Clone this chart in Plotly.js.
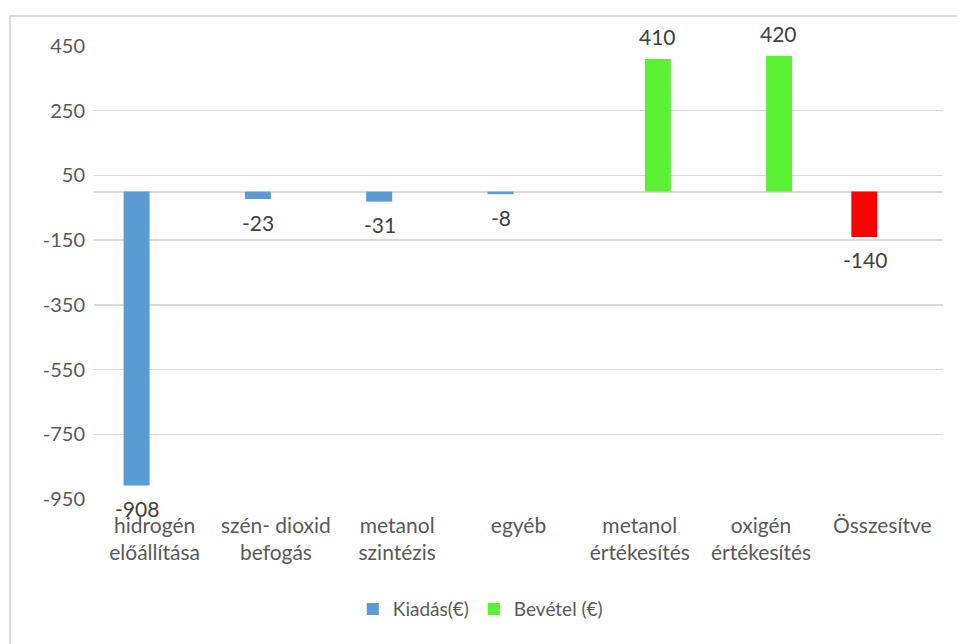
<!DOCTYPE html>
<html>
<head>
<meta charset="utf-8">
<script src="https://cdn.plot.ly/plotly-3.0.1.min.js"></script>
<style>
html,body{margin:0;padding:0;background:#fff;overflow:hidden;}
#chart{width:957px;height:644px;}
#frame{position:absolute;left:9px;top:15px;width:1000px;height:700px;border:2px solid #D9D9D9;pointer-events:none;}
</style>
</head>
<body>
<div id="chart"></div>
<div id="frame"></div>
<script>
const categories = ["hidrogén<br>előállítása", "szén- dioxid<br>befogás", "metanol<br>szintézis", "egyéb", "metanol<br>értékesítés", "oxigén<br>értékesítés", "Összesítve"];
const kiadas = [-908, -23, -31, -8, null, null, -140];
const bevetel = [null, null, null, null, 410, 420, null];
const kiadasColors = ["#5B9BD5", "#5B9BD5", "#5B9BD5", "#5B9BD5", "#5B9BD5", "#5B9BD5", "#FF0000"];
const yTicks = [450, 250, 50, -150, -350, -550, -750, -950];

const font = "Lato, 'Liberation Sans', sans-serif";

const traces = [
  {type: "bar", name: "Kiadás(€)", x: categories, y: kiadas,
   marker: {color: kiadasColors}},
  {type: "bar", name: "Bevétel (€)", x: categories, y: bevetel,
   marker: {color: "#5AF033"}}
];

const annotations = [];
kiadas.forEach((v, i) => {
  if (v !== null) annotations.push({x: categories[i], y: v, text: String(v), showarrow: false,
    xshift: -17.5, yshift: -23, yanchor: "middle", font: {family: font, size: 21, color: "#404040"}});
});
bevetel.forEach((v, i) => {
  if (v !== null) annotations.push({x: categories[i], y: v, text: String(v), showarrow: false,
    xshift: 17.5, yshift: 22, yanchor: "middle", font: {family: font, size: 21, color: "#404040"}});
});

const layout = {
  width: 957, height: 644,
  margin: {l: 94, r: 14, t: 46, b: 145},
  paper_bgcolor: "#fff", plot_bgcolor: "#fff",
  barmode: "group", bargap: 0.405, bargroupgap: 0.28,
  font: {family: font, color: "#595959"},
  xaxis: {type: "category", tickfont: {size: 21, color: "#595959"}, showgrid: false,
          showline: false, ticks: "", ticklabelstandoff: 12},
  yaxis: {range: [-950, 450], tickvals: yTicks, ticktext: yTicks.map(String),
          tickfont: {size: 20, color: "#595959"}, showgrid: true, gridcolor: "#D9D9D9", gridwidth: 1.5,
          zeroline: true, zerolinecolor: "#D9D9D9", zerolinewidth: 2, showline: false,
          ticks: "", ticklabelstandoff: 8},
  showlegend: true,
  legend: {orientation: "h", x: 0.455, xanchor: "center", y: -0.243, yanchor: "middle",
           font: {size: 19, color: "#595959"}, traceorder: "normal", itemwidth: 30},
  annotations: annotations
};

Plotly.newPlot("chart", traces, layout, {displayModeBar: false, staticPlot: true});
</script>
</body>
</html>
